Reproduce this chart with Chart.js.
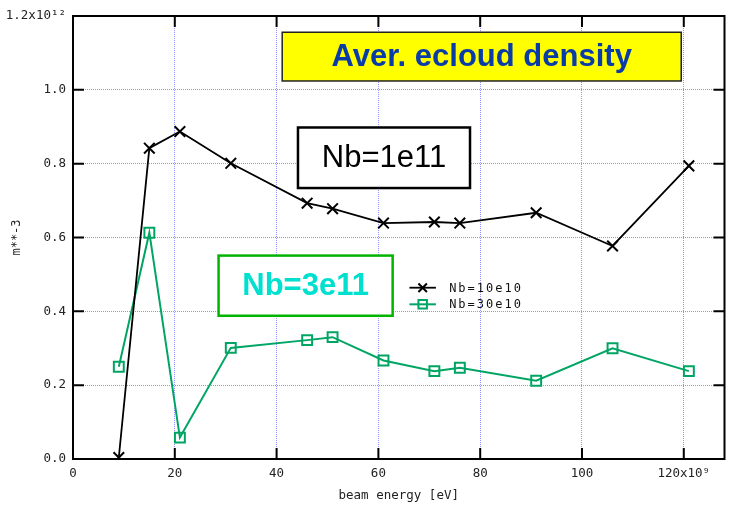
<!DOCTYPE html>
<html>
<head>
<meta charset="utf-8">
<title>Aver. ecloud density</title>
<script src="https://cdn.jsdelivr.net/npm/chart.js@4.4.0/dist/chart.umd.min.js"></script>
<style>
  html, body { margin: 0; padding: 0; background: #fff; }
</style>
</head>
<body>
<canvas id="ecloud" width="734" height="507"></canvas>
<script>
// beam energy in units of 1e9 eV, density in units of 1e12 m**-3
const beamEnergy = [9, 15, 21, 31, 46, 51, 61, 71, 76, 91, 106, 121];
const densityNb10 = [0.004, 0.842, 0.887, 0.801, 0.693, 0.678, 0.639, 0.642, 0.639, 0.667, 0.577, 0.794];
const densityNb30 = [0.250, 0.613, 0.058, 0.301, 0.322, 0.330, 0.267, 0.238, 0.247, 0.212, 0.300, 0.238];
const seriesLabels = ['Nb=10e10', 'Nb=30e10'];
const xTickLabels = ['0', '20', '40', '60', '80', '100', '120x10⁹'];
const yTickLabels = ['0.0', '0.2', '0.4', '0.6', '0.8', '1.0', '1.2x10¹²'];

const MONO = "'DejaVu Sans Mono', 'Liberation Mono', monospace";
const SANS = "'Liberation Sans', Arial, sans-serif";
const GRID = 'rgba(110, 110, 255, 0.75)';

// boxed notes, placed in data coordinates
const notes = [
  { text: 'Aver. ecloud density', x0: 41.1, x1: 119.5, y0: 1.024, y1: 1.156,
    fill: '#ffff00', stroke: '#222', lw: 1.5, color: '#0a3ca8', font: 'bold 31px ' + SANS },
  { text: 'Nb=1e11', x0: 44.2, x1: 78.0, y0: 0.734, y1: 0.898,
    fill: '#ffffff', stroke: '#000', lw: 2.5, color: '#000', font: '31px ' + SANS },
  { text: 'Nb=3e11', x0: 28.6, x1: 62.8, y0: 0.388, y1: 0.551,
    fill: '#ffffff', stroke: '#00b400', lw: 2.5, color: '#00e0cf', font: 'bold 31px ' + SANS }
];

const framePlugin = {
  id: 'frame',
  afterDraw(chart) {
    const { ctx, chartArea: a, scales: { x, y } } = chart;
    ctx.save();
    ctx.strokeStyle = '#000';
    ctx.lineWidth = 2;
    ctx.strokeRect(a.left, a.top, a.right - a.left, a.bottom - a.top);
    // inward tick marks on all four sides
    const len = 11;
    ctx.beginPath();
    x.ticks.forEach(t => {
      const px = x.getPixelForValue(t.value);
      ctx.moveTo(px, a.bottom); ctx.lineTo(px, a.bottom - len);
      ctx.moveTo(px, a.top); ctx.lineTo(px, a.top + len);
    });
    y.ticks.forEach(t => {
      const py = y.getPixelForValue(t.value);
      ctx.moveTo(a.left, py); ctx.lineTo(a.left + len, py);
      ctx.moveTo(a.right, py); ctx.lineTo(a.right - len, py);
    });
    ctx.stroke();

    // notes
    notes.forEach(n => {
      const l = x.getPixelForValue(n.x0), r = x.getPixelForValue(n.x1);
      const t = y.getPixelForValue(n.y1), b = y.getPixelForValue(n.y0);
      ctx.fillStyle = n.fill;
      ctx.fillRect(l, t, r - l, b - t);
      ctx.strokeStyle = n.stroke;
      ctx.lineWidth = n.lw;
      ctx.strokeRect(l, t, r - l, b - t);
      ctx.fillStyle = n.color;
      ctx.font = n.font;
      ctx.textAlign = 'center';
      ctx.textBaseline = 'middle';
      ctx.fillText(n.text, (l + r) / 2, (t + b) / 2 + 1);
    });

    // legend
    const rows = [0.464, 0.419];
    const sx0 = x.getPixelForValue(66.1), sx1 = x.getPixelForValue(71.3);
    const tx = x.getPixelForValue(73.9);
    ctx.font = '12px ' + MONO;
    ctx.letterSpacing = '2px';
    ctx.textAlign = 'left';
    chart.data.datasets.forEach((ds, i) => {
      const py = y.getPixelForValue(rows[i]);
      ctx.strokeStyle = ds.borderColor;
      ctx.lineWidth = ds.borderWidth;
      ctx.beginPath();
      ctx.moveTo(sx0, py); ctx.lineTo(sx1, py);
      ctx.stroke();
      ctx.fillStyle = 'rgba(0,0,0,0)';
      ctx.lineWidth = ds.pointBorderWidth;
      Chart.helpers.drawPoint(ctx, { pointStyle: ds.pointStyle, radius: 6, borderWidth: ds.pointBorderWidth, rotation: 0 }, (sx0 + sx1) / 2, py);
      ctx.fillStyle = '#111';
      ctx.fillText(ds.label, tx, py + 1);
    });
    ctx.restore();
  }
};

new Chart(document.getElementById('ecloud'), {
  type: 'line',
  data: {
    datasets: [
      {
        label: seriesLabels[0],
        data: beamEnergy.map((e, i) => ({ x: e, y: densityNb10[i] })),
        borderColor: '#000',
        borderWidth: 1.8,
        pointStyle: 'crossRot',
        pointRadius: 7.5,
        pointBorderWidth: 2,
        pointBackgroundColor: 'rgba(0,0,0,0)',
        pointBorderColor: '#000'
      },
      {
        label: seriesLabels[1],
        data: beamEnergy.map((e, i) => ({ x: e, y: densityNb30[i] })),
        borderColor: '#00a564',
        borderWidth: 2,
        pointStyle: 'rect',
        pointRadius: 7,
        pointBorderWidth: 2,
        pointBackgroundColor: 'rgba(0,0,0,0)',
        pointBorderColor: '#00a564'
      }
    ]
  },
  options: {
    responsive: false,
    animation: false,
    devicePixelRatio: 1,
    layout: { padding: { top: 16, right: 7, bottom: 0, left: 0 } },
    plugins: {
      legend: { display: false },
      tooltip: { enabled: false }
    },
    scales: {
      x: {
        type: 'linear',
        min: 0,
        max: 128,
        afterFit(scale) { scale.height = 48; },
        ticks: {
          stepSize: 20,
          includeBounds: false,
          maxRotation: 0,
          padding: 7,
          color: '#222',
          font: { family: MONO, size: 12.5 },
          callback: (v, i) => xTickLabels[i]
        },
        grid: { color: GRID, lineWidth: 1, drawTicks: false },
        border: { display: false, dash: [1, 1] },
        title: {
          display: true,
          text: 'beam energy [eV]',
          color: '#222',
          font: { family: MONO, size: 12.5 },
          padding: { top: 0, bottom: 4 }
        }
      },
      y: {
        min: 0,
        max: 1.2,
        afterFit(scale) { scale.width = 73; },
        ticks: {
          stepSize: 0.2,
          padding: 7,
          color: '#222',
          font: { family: MONO, size: 12.5 },
          callback: (v, i) => yTickLabels[i]
        },
        grid: { color: GRID, lineWidth: 1, drawTicks: false },
        border: { display: false, dash: [1, 1] },
        title: {
          display: true,
          text: 'm**-3',
          color: '#222',
          font: { family: MONO, size: 12 },
          padding: { top: 10, bottom: 0 }
        }
      }
    }
  },
  plugins: [framePlugin]
});
</script>
</body>
</html>
